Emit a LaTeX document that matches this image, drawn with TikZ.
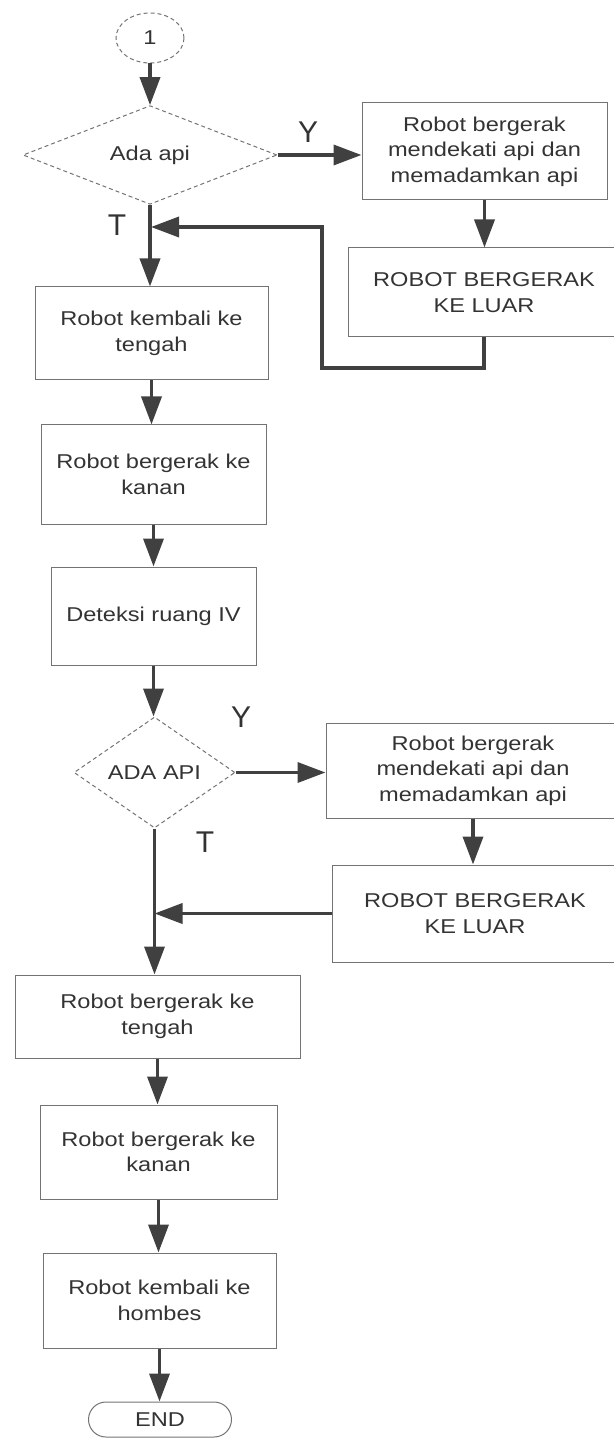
\documentclass[tikz,border=0pt]{standalone}
\usepackage{fontspec}
\setmainfont{Liberation Sans}
\newfontfamily\stretchfont[FakeStretch=1.18]{Liberation Sans}
\usetikzlibrary{shapes.geometric,arrows.meta}
\begin{document}
\begin{tikzpicture}[x=0.5pt,y=-0.5pt,
  txt/.style={font=\stretchfont\fontsize{10pt}{12.75pt}\selectfont, text=black!80, align=center, inner sep=0pt},
  box/.style={txt, draw=black!55, line width=0.5pt, rectangle},
  dec/.style={txt, draw=black!55, line width=0.5pt, dash pattern=on 2pt off 1.5pt, diamond},
  startnode/.style={txt, draw=black!55, line width=0.5pt, dash pattern=on 2pt off 1.5pt, ellipse},
  endnode/.style={txt, draw=black!55, line width=0.5pt, rectangle, rounded corners=8.75pt},
  conn/.style={draw=black!75, line width=1.8pt},
  arr/.style={conn, -{Triangle[length=14pt,width=10pt]}},
  lab/.style={font=\fontsize{15pt}{15pt}\selectfont, text=black!80, inner sep=0pt}
]
\useasboundingbox (0,0) rectangle (614,1438);
% nodes
\node[startnode, minimum width=34pt, minimum height=25pt] (s) at (150,38) {1};
\node[dec, minimum width=127pt, minimum height=49pt] (d1) at (150,155) {Ada api};
\node[box, minimum width=122.5pt, minimum height=48.5pt] (r1) at (484.5,151.5) {Robot bergerak\\mendekati api dan\\memadamkan api};
\node[box, minimum width=136pt, minimum height=44.5pt] (r2) at (484,292.5) {ROBOT BERGERAK\\KE LUAR};
\node[box, minimum width=116.5pt, minimum height=46.5pt] (a) at (151.5,333.5) {Robot kembali ke\\tengah};
\node[box, minimum width=112.5pt, minimum height=49.5pt] (b) at (153.5,474.5) {Robot bergerak ke\\kanan};
\node[box, minimum width=102.5pt, minimum height=49pt] (c) at (153.5,616) {Deteksi ruang IV};
\node[dec, minimum width=80.5pt, minimum height=55.5pt] (d2) at (154.5,772.5) {ADA API};
\node[box, minimum width=147pt, minimum height=47.5pt] (r3) at (473,770.5) {Robot bergerak\\mendekati api dan\\memadamkan api};
\node[box, minimum width=143pt, minimum height=48.5pt] (r4) at (475,913.5) {ROBOT BERGERAK\\KE LUAR};
\node[box, minimum width=142.5pt, minimum height=41.5pt] (dd) at (157.5,1016.5) {Robot bergerak ke\\tengah};
\node[box, minimum width=118.5pt, minimum height=47pt] (e) at (158.5,1152) {Robot bergerak ke\\kanan};
\node[box, minimum width=116.5pt, minimum height=47.5pt] (f) at (159.5,1300.5) {Robot kembali ke\\hombes};
\node[endnode, minimum width=71.5pt, minimum height=17.5pt] (en) at (160,1419.5) {END};
% labels
\node[lab] (y1) at (308,132) {Y};
\node[lab] (t1) at (117,225) {T};
\node[lab] (y2) at (241,717) {Y};
\node[lab] (t2) at (205,842) {T};
% helper coordinates
\coordinate (l1) at (322,368);
\coordinate (j1) at (151,227);
% connectors
\draw[arr] (s.south) -- (s.south |- d1.north);
\draw[arr] (d1.east) -- (d1.east -| r1.west);
\draw[arr] (r1.south) -- (r1.south |- r2.north);
\draw[arr] (d1.south) -- (d1.south |- a.north);
\draw[arr] (r2.south) |- (l1) |- (j1);
\draw[arr] (a.south) -- (a.south |- b.north);
\draw[arr] (b.south) -- (b.south |- c.north);
\draw[arr] (c.south) -- (c.south |- d2.north);
\draw[arr] (d2.east) -- (d2.east -| r3.west);
\draw[arr] (r3.south) -- (r3.south |- r4.north);
\draw[arr] (d2.south) -- (d2.south |- dd.north);
\draw[arr] (r4.west) -- (r4.west -| d2.south);
\draw[arr] (dd.south) -- (dd.south |- e.north);
\draw[arr] (e.south) -- (e.south |- f.north);
\draw[arr] (f.south) -- (f.south |- en.north);
\end{tikzpicture}
\end{document}
